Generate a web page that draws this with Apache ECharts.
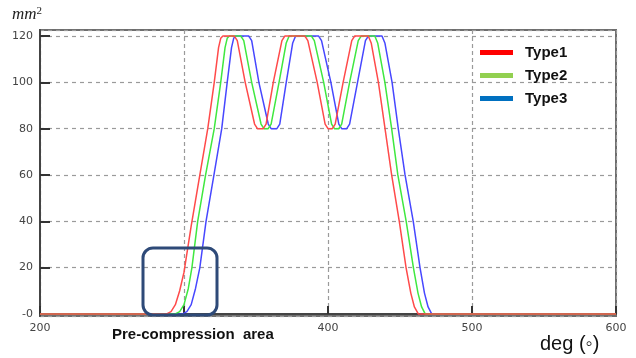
<!DOCTYPE html>
<html>
<head>
<meta charset="utf-8">
<script src="https://cdn.jsdelivr.net/npm/echarts@6/dist/echarts.min.js"></script>
<style>html,body{margin:0;padding:0;background:#fff}#c{width:636px;height:358px}</style>
</head>
<body>
<div id="c"></div>
<script>
var seriesNames = ['Type1', 'Type2', 'Type3'];
var xTicks = [200, 300, 400, 500, 600];
var yTicks = [0, 20, 40, 60, 80, 100, 120];

var type1 = [[200,0],[288,0],[291,1],[294,4],[297,10],[300,18],[305,38],[311,60],[316.5,80],[321,100],[324,115],[325.5,119],[327,120],[335,120],[337,118],[342.5,100],[349,82],[351,80],[355,80],[357,82],[362,100],[368,118],[370,120],[384,120],[386,118],[392.5,100],[398,82],[400,80],[403,80],[405,82],[410.5,100],[416.5,118],[418.5,120],[428,120],[430,117],[435,100],[439.6,80],[444.2,60],[449.5,40],[454.2,20],[457.5,9],[460,3],[462.7,0],[600,0]];
var type2 = [[200,0],[294,0],[297,1],[300,4],[303,11],[305.5,20],[309.5,40],[315,60],[321,80],[325.5,100],[328.5,115],[330,119],[331.5,120],[339.5,120],[341.5,118],[347,100],[353.5,82],[355.5,80],[358.5,80],[360.5,82],[366,100],[371,117],[373,120],[388.5,120],[390.5,118],[397,100],[402.5,82],[404.5,80],[407.5,80],[409.5,82],[415,100],[421,118],[423,120],[432.5,120],[434.5,117],[439.5,100],[444.2,80],[448.5,60],[454.3,40],[459.3,20],[462.5,9],[465,3],[467.5,0],[600,0]];
var type3 = [[200,0],[299,0],[302,1],[305,4],[308,11],[311,20],[315.3,40],[320.8,60],[326.2,80],[330,100],[333,115],[334.5,119],[336,120],[345,120],[347,118],[352,100],[358.5,82],[360.5,80],[364.5,80],[366.5,82],[371,100],[375.5,117],[377.5,120],[393.5,120],[395.5,118],[402,100],[407.5,82],[409.5,80],[413,80],[415,82],[420.5,100],[426,118],[428,120],[437.5,120],[439.5,117],[444.5,100],[448.8,80],[453.5,60],[459.2,40],[463.9,20],[467,9],[469.5,3],[472,0],[600,0]];

var lineColors = ['#ff4a4a', '#3fe83f', '#4747ff'];
var legendColors = ['#ff0000', '#92d050', '#0070c0'];

var chart = echarts.init(document.getElementById('c'), null, {renderer: 'canvas'});
var dataSets = [type1, type2, type3];

var option = {
  animation: false,
  backgroundColor: '#fff',
  grid: {left: 40, right: 20, top: 30, bottom: 42, show: true, borderColor: '#6e6e6e', borderWidth: 2, backgroundColor: 'transparent'},
  legend: {
    orient: 'vertical', left: 480, top: 45, padding: 0, itemWidth: 33, itemHeight: 5, itemGap: 8, icon: 'rect',
    textStyle: {fontFamily: 'Liberation Sans', fontWeight: 'bold', fontSize: 15, color: '#111', padding: [0, 0, 0, 7]},
    data: seriesNames.map(function (n, i) { return {name: n, itemStyle: {color: legendColors[i]}}; })
  },
  xAxis: {
    type: 'value', min: xTicks[0], max: xTicks[xTicks.length - 1], interval: 100,
    axisLine: {lineStyle: {color: '#444', width: 2}},
    axisTick: {inside: true, length: 8, lineStyle: {color: '#333', width: 2}},
    axisLabel: {margin: 7, fontFamily: 'DejaVu Sans', fontSize: 11, color: '#444', showMinLabel: true, showMaxLabel: true},
    splitLine: {show: true, lineStyle: {color: '#9a9a9a', type: [4, 3], width: 1.2}}
  },
  yAxis: {
    type: 'value', min: -0.9, max: 122.6, minInterval: 20, maxInterval: 20,
    axisLine: {show: true, lineStyle: {color: '#444', width: 2}},
    axisTick: {show: true, inside: true, length: 10, lineStyle: {color: '#333', width: 2}},
    axisLabel: {margin: 7, fontFamily: 'DejaVu Sans', fontSize: 11, color: '#444', showMinLabel: false, showMaxLabel: false,
      formatter: function (v) { if (yTicks.indexOf(v) < 0) return ''; return v === 0 ? '-0' : String(v); }},
    splitLine: {show: true, lineStyle: {color: '#9a9a9a', type: [4, 4], width: 1.2}}
  },
  series: seriesNames.map(function (n, i) {
    return {name: n, type: 'line', data: dataSets[i], showSymbol: false, symbol: 'none', z: 3 - i + 2,
      lineStyle: {color: lineColors[i], width: 1.5}, itemStyle: {color: lineColors[i]}};
  }),
  graphic: [
    {type: 'text', left: 12, top: 6, style: {text: '{a|mm}{b|2}', rich: {a: {fontFamily: 'Liberation Serif', fontStyle: 'italic', fontSize: 17, fill: '#222'}, b: {fontFamily: 'Liberation Serif', fontSize: 11, fill: '#222', verticalAlign: 'top', padding: [0,0,7,0]}}}},
    {type: 'text', left: 109, top: 321, z: 20, style: {text: 'Pre-compression  area', fontFamily: 'Liberation Sans', fontWeight: 'bold', fontSize: 15, fill: '#111', backgroundColor: '#fff', padding: [6, 3, 4, 3]}},
    {type: 'text', left: 540, top: 334, style: {text: 'deg (\u25E6)', fontFamily: 'Liberation Sans', fontSize: 20, fill: '#111'}},
    {type: 'rect', shape: {x: 143, y: 248, width: 74, height: 67, r: 10}, style: {fill: 'none', stroke: '#2e4a78', lineWidth: 3}, z: 10}
  ]
};
chart.setOption(option);
</script>
</body>
</html>
